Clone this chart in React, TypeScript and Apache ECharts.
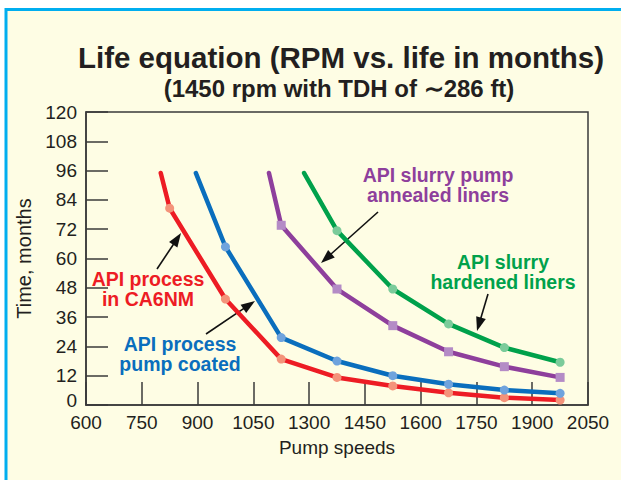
import React, { useEffect, useRef } from "react";
import * as echarts from "echarts";

// ---- data ----
const xTickLabels = ["600", "750", "900", "1050", "1300", "1450", "1600", "1750", "1900", "2050"];
const yTicks = { min: 0, max: 120, interval: 12 };

// [x position on the pump-speed scale (tick index), months]
const ca6nm = [[1.34, 95], [1.5, 80.6], [2.5, 43.4], [3.5, 18.8], [4.5, 11.3], [5.5, 7.8], [6.5, 5.0], [7.5, 3.0], [8.5, 2.0]];
const coated = [[1.97, 95], [2.5, 64.8], [3.5, 27.6], [4.5, 18.0], [5.5, 12.0], [6.5, 8.5], [7.5, 6.1], [8.5, 4.8]];
const annealed = [[3.28, 95], [3.5, 73.6], [4.5, 47.5], [5.5, 32.5], [6.5, 21.8], [7.5, 15.7], [8.5, 11.3]];
const hardened = [[3.91, 95], [4.5, 71.4], [5.5, 47.5], [6.5, 33.2], [7.5, 23.5], [8.5, 17.5]];

const seriesNames = ["API process in CA6NM", "API process pump coated", "API slurry pump annealed liners", "API slurry hardened liners"];

const FONT = "'Liberation Sans', Arial, Helvetica, sans-serif";
const TEXT = "#231F20";

function arrow(x1: number, y1: number, x2: number, y2: number) {
  const dx = x2 - x1, dy = y2 - y1;
  const len = Math.sqrt(dx * dx + dy * dy);
  const ux = dx / len, uy = dy / len;
  const hl = 14, hw = 5;
  const bx = x2 - ux * hl, by = y2 - uy * hl;
  const px = -uy, py = ux;
  return [
    { type: "line", shape: { x1, y1, x2: bx + ux * 2, y2: by + uy * 2 }, style: { stroke: "#111", lineWidth: 1.6 } },
    {
      type: "polygon",
      shape: { points: [[x2, y2], [bx + px * hw, by + py * hw], [bx - px * hw, by - py * hw]] },
      style: { fill: "#111" },
    },
  ];
}

function label(x: number, y: number, text: string, color: string) {
  return {
    type: "text",
    x,
    y,
    style: {
      text,
      fill: color,
      font: `bold 19.5px ${FONT}`,
      textAlign: "center",
      textVerticalAlign: "middle",
      lineHeight: 20,
    },
  };
}

function toData(arr: number[][]) {
  return arr.map((p, i) => (i === 0 ? { value: p, symbol: "none" } : { value: p }));
}

export default function App() {
  const ref = useRef<HTMLDivElement>(null);
  useEffect(() => {
    document.body.style.margin = "0";
    const chart = echarts.init(ref.current!, null, { renderer: "svg" });
    const mk = (name: string, data: number[][], line: string, marker: string, symbol: string) => ({
      name,
      type: "line",
      data: toData(data),
      symbol,
      symbolSize: 9,
      showSymbol: true,
      lineStyle: { color: line, width: 4.5, cap: "round", join: "round" },
      itemStyle: { color: marker, borderWidth: 0 },
      z: 3,
    });
    chart.setOption({
      animation: false,
      backgroundColor: "#ffffff",
      textStyle: { fontFamily: FONT },
      grid: { left: 86, top: 112, width: 502, height: 293, show: true, borderColor: "#3a3a3a", borderWidth: 1.5, backgroundColor: "transparent" },
      xAxis: {
        type: "value",
        min: 0,
        max: xTickLabels.length - 1,
        interval: 1,
        name: "Pump speeds",
        nameLocation: "middle",
        nameGap: 33,
        nameTextStyle: { fontSize: 19, color: TEXT, fontFamily: FONT },
        axisLine: { show: true, lineStyle: { color: "#3a3a3a", width: 1.5 } },
        axisTick: { show: true, inside: true, length: 23, lineStyle: { color: "#3a3a3a", width: 1.5 } },
        axisLabel: { fontSize: 19, color: TEXT, margin: 8, fontFamily: FONT, formatter: (v: number) => xTickLabels[Math.round(v)] ?? "" },
        splitLine: { show: false },
      },
      yAxis: {
        type: "value",
        min: yTicks.min,
        max: yTicks.max,
        interval: yTicks.interval,
        name: "Time, months",
        nameLocation: "middle",
        nameGap: 44,
        nameTextStyle: { fontSize: 20, color: TEXT, fontFamily: FONT },
        axisLine: { show: true, lineStyle: { color: "#3a3a3a", width: 1.5 } },
        axisTick: { show: true, inside: true, length: 22, lineStyle: { color: "#3a3a3a", width: 1.5 } },
        axisLabel: {
          fontSize: 19,
          color: TEXT,
          margin: 9,
          fontFamily: FONT,
          formatter: (v: number) => (v === 0 ? "{z|0}" : String(v)),
          rich: { z: { fontSize: 19, color: TEXT, fontFamily: FONT, padding: [0, 0, 9, 0] } },
        },
        splitLine: { show: false },
      },
      graphic: [
        {
          type: "rect",
          z: -10,
          silent: true,
          shape: { x: 6, y: 9.5, width: 700, height: 600 },
          style: { fill: "#FEFDE4", stroke: "#00AEEF", lineWidth: 3 },
        },
        {
          type: "text",
          x: 341,
          y: 57,
          style: { text: "Life equation (RPM vs. life in months)", fill: TEXT, font: `bold 29.5px ${FONT}`, textAlign: "center", textVerticalAlign: "middle" },
        },
        {
          type: "text",
          x: 339,
          y: 88,
          style: { text: "(1450 rpm with TDH of \u223C286 ft)", fill: TEXT, font: `bold 24px ${FONT}`, textAlign: "center", textVerticalAlign: "middle" },
        },
        label(148, 289, "API process\nin CA6NM", "#ED1C24"),
        label(180, 353.5, "API process\npump coated", "#0A6EBD"),
        label(438, 185, "API slurry pump\nannealed liners", "#8E3F9C"),
        label(503, 271.5, "API slurry\nhardened liners", "#00A14B"),
        ...arrow(157, 269, 181, 233),
        ...arrow(206, 334, 255, 301),
        ...arrow(378, 212, 321, 263),
        ...arrow(488, 294, 477, 331),
      ],
      series: [
        mk(seriesNames[0], ca6nm, "#ED1C24", "#F4937A", "circle"),
        mk(seriesNames[1], coated, "#0A6EBD", "#6FA3DD", "circle"),
        mk(seriesNames[2], annealed, "#8E3F9C", "#B48BC6", "rect"),
        mk(seriesNames[3], hardened, "#00A14B", "#7BCB9A", "circle"),
      ],
    });
    return () => chart.dispose();
  }, []);
  return <div ref={ref} style={{ width: 621, height: 480 }} />;
}
